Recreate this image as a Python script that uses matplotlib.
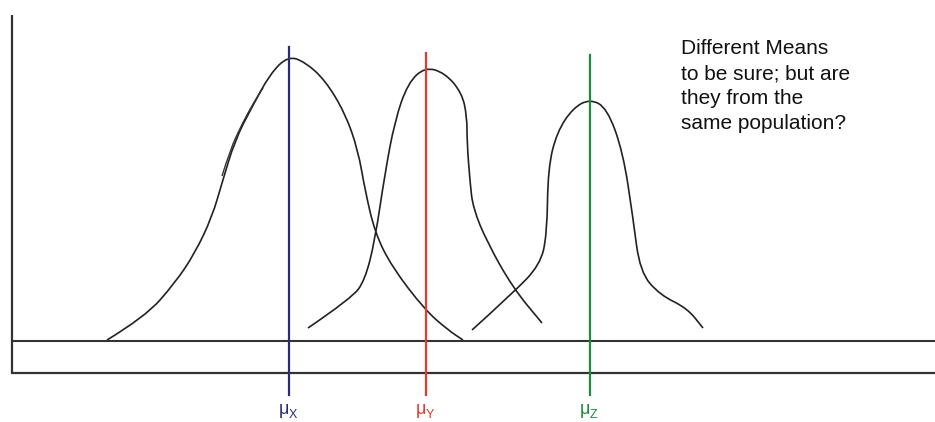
import numpy as np
import matplotlib
matplotlib.use("Agg")
import matplotlib.pyplot as plt
from matplotlib.path import Path
from matplotlib.patches import PathPatch

# Curvas dibujadas a mano (coordenadas, en pixeles)
curva_x = [(107, 340), (145, 317), (175, 283), (195, 253), (212, 217), (222, 183),
           (235, 140), (252, 107), (270, 74), (288, 56), (305, 62), (325, 80),
           (345, 113), (358, 150), (365, 190), (375, 233), (392, 267), (425, 310),
           (448, 330), (463, 340)]
curva_y = [(308, 328), (352, 298), (365, 280), (375, 240), (385, 173), (395, 120),
           (408, 83), (425, 67), (445, 73), (462, 93), (467, 117), (467, 142),
           (470, 182), (473, 208), (487, 242), (513, 288), (542, 323)]
curva_z = [(472, 330), (513, 293), (540, 265), (547, 235), (548, 168), (557, 132),
           (573, 108), (590, 99), (607, 108), (623, 152), (633, 218), (640, 272),
           (660, 295), (687, 308), (703, 328)]
# segundo trazo (mas grueso) sobre el lado izquierdo de X
trazo_x = [(222, 176), (230, 150), (242, 124), (254, 102), (263, 88)]

medias_x = [289, 426, 590]
medias_top = [47, 53, 55]
medias_col = ["#2c2c72", "#e23b33", "#1f8a3d"]
medias_sub = ["X", "Y", "Z"]

texto = "Different Means\nto be sure; but are\nthey from the\nsame population?"

plt.rcParams["font.family"] = ["Liberation Sans", "DejaVu Sans"]

fig = plt.figure(figsize=(9.35, 4.22), dpi=100)
ax = fig.add_axes([0, 0, 1, 1])
ax.set_xlim(0, 935)
ax.set_ylim(422, 0)
ax.axis("off")


def curva_suave(puntos):
    # curva cuadratica por puntos medios (la dibuja Path)
    p = np.array(puntos, dtype=float)
    verts = [p[0]]
    codes = [Path.MOVETO]
    for i in range(1, len(p) - 1):
        mid = (p[i] + p[i + 1]) / 2
        verts += [p[i], mid]
        codes += [Path.CURVE3, Path.CURVE3]
    verts.append(p[-1])
    codes.append(Path.LINETO)
    return Path(verts, codes)


# ejes
ax.plot([12, 12], [15, 373], color="#333333", lw=1.6, solid_capstyle="butt")
ax.plot([12, 935], [341, 341], color="#333333", lw=1.5)
ax.plot([12, 935], [373, 373], color="#333333", lw=1.6)

for c in [curva_x, curva_y, curva_z]:
    ax.add_patch(PathPatch(curva_suave(c), fill=False, edgecolor="#222222", lw=1.2))
ax.add_patch(PathPatch(curva_suave(trazo_x), fill=False, edgecolor="#333333", lw=1.0))

for x, top, col, sub in zip(medias_x, medias_top, medias_col, medias_sub):
    ax.plot([x, x], [top, 395], color=col, lw=1.6)
    ax.text(x - 5, 414, "μ", color=col, fontsize=13, ha="center", va="baseline")
    ax.text(x + 0, 418, sub, color=col, fontsize=9, ha="left", va="baseline")

ax.text(681, 39, texto, fontsize=15, ha="left", va="top", linespacing=1.4, color="#111111")

fig.savefig("out.png", dpi=100)
